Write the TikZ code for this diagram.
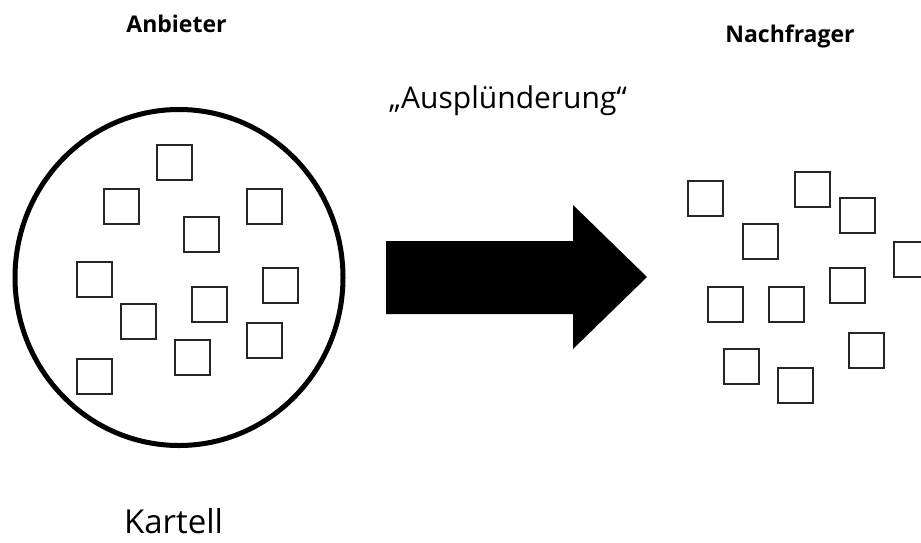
\documentclass[tikz,border=0pt]{standalone}
\usepackage{fontspec}
\setmainfont{Open Sans}
\usetikzlibrary{shapes.geometric}
\begin{document}
\begin{tikzpicture}[x=1pt,y=-1pt,
  member/.style={draw=black!85, line width=2pt, minimum size=35pt, inner sep=0pt, fill=white},
  heading/.style={font=\fontsize{23}{27}\selectfont\bfseries, anchor=base, inner sep=0pt},
  label/.style={font=\fontsize{30}{36}\selectfont, anchor=base, inner sep=0pt},
  bigarrow/.style={fill=black, draw=none}]
  \useasboundingbox (0,0) rectangle (921,542);
  \clip (0,0) rectangle (921,542);

  % headings
  \node[heading] (anb) at (176.5,32) {Anbieter};
  \node[heading] (nach) at (790,42) {Nachfrager};
  \node[label] (plunder) at (508,108) {„Ausplünderung“};
  \node[label, font=\fontsize{33}{40}\selectfont] (kartell) at (173.5,533) {Kartell};

  % cartel boundary
  \node[draw, ellipse, line width=5pt, minimum width=328pt, minimum height=336pt, inner sep=0pt] (cartel) at (179,277.5) {};

  % suppliers inside the cartel
  \foreach \n/\px/\py in {1/174/162, 2/121.5/206.5, 3/264/206.5, 4/201/234, 5/94/279,
      6/280/285.5, 7/209/304.5, 8/138.5/321, 9/264/340, 10/192.5/357, 11/94/376}
    \node[member] (s\n) at (\px,\py) {};

  % buyers
  \foreach \n/\px/\py in {1/705.5/198, 2/812.5/189, 3/857/215, 4/760/241.5, 5/911.5/259,
      6/847.5/285, 7/725/304.5, 8/786/304.5, 9/866/350, 10/741/366, 11/795.5/385}
    \node[member] (b\n) at (\px,\py) {};

  % block arrow from cartel to buyers
  \coordinate (tail) at (386,277.5);
  \coordinate (tip) at (647,277);
  \fill[bigarrow] (tail |- 0,241) -- (573,241) -- (573,205) -- (tip)
    -- (573,349) -- (573,314) -- (tail |- 0,314) -- cycle;
\end{tikzpicture}
\end{document}
